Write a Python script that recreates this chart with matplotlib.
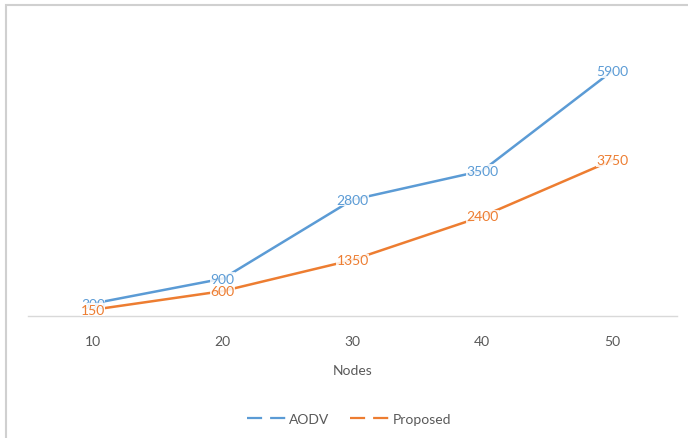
import numpy as np
import matplotlib.pyplot as plt
from matplotlib.lines import Line2D
from matplotlib.patches import Rectangle

# chart data
nodes = ['10', '20', '30', '40', '50']
aodv = [300, 900, 2800, 3500, 5900]
proposed = [150, 600, 1350, 2400, 3750]

blue = '#5B9BD5'
orange = '#ED7D31'
grey = '#595959'

plt.rcParams['font.family'] = ['Lato', 'DejaVu Sans']

fig = plt.figure(figsize=(6.88, 4.39), dpi=100)
ax = fig.add_axes([28 / 688, 122 / 439, 649 / 688, 290.5 / 439])

x = np.arange(len(nodes))
ax.plot(x, aodv, '-', lw=1.8, color=blue, label='AODV', zorder=2)
ax.plot(x, proposed, '-', lw=1.8, color=orange, label='Proposed', zorder=2)

# data labels sit on the points, like the Excel "center" option
for xi, v in zip(x, aodv):
    ax.text(xi, v, str(v), ha='center', va='center', fontsize=10, color=blue,
            zorder=3, bbox=dict(fc='white', ec='none', pad=0.3, alpha=0.85))
for xi, v in zip(x, proposed):
    ax.text(xi, v, str(v), ha='center', va='center', fontsize=10, color=orange,
            zorder=3, bbox=dict(fc='white', ec='none', pad=0.3, alpha=0.85))

ax.set_xlim(-0.5, len(nodes) - 0.5)
ax.set_ylim(0, 7000)
ax.set_xticks(x)
ax.set_xticklabels(nodes, fontsize=10, color=grey)
ax.tick_params(axis='x', length=0, pad=14)
ax.set_yticks([])
for s in ['top', 'right', 'left']:
    ax.spines[s].set_visible(False)
ax.spines['bottom'].set_color('#D9D9D9')
ax.spines['bottom'].set_linewidth(1)
ax.set_xlabel('Nodes', fontsize=10, color=grey, labelpad=12)

handles = [Line2D([0], [0], color=blue, lw=1.6, linestyle=(0, (6.8, 3.6))),
           Line2D([0], [0], color=orange, lw=1.6, linestyle=(0, (6.8, 3.6)))]
fig.legend(handles, ['AODV', 'Proposed'], loc='center', bbox_to_anchor=(349 / 688, 1 - 420 / 439),
           ncol=2, frameon=False, fontsize=10, labelcolor=grey, handlelength=2.9,
           handletextpad=0.15, columnspacing=1.5)

# chart area border (cropped at right and bottom)
fig.add_artist(Rectangle((6 / 688, -0.2), 1.2, 1 - 6 / 439 + 0.2, transform=fig.transFigure,
                         fill=False, ec='#D0D0D0', lw=1.5, clip_on=False))

fig.savefig('out.png', dpi=100)
